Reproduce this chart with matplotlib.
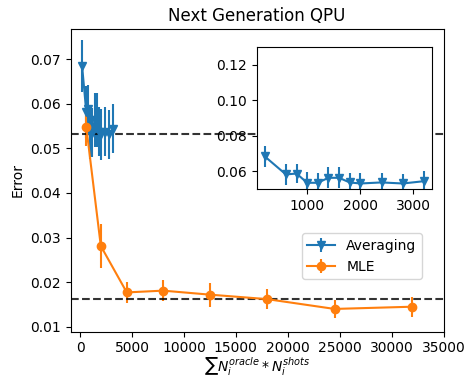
import numpy as np
import matplotlib
matplotlib.use('Agg')
import matplotlib.pyplot as plt

# Averaging estimator
avg_x = [200, 600, 800, 1000, 1200, 1400, 1600, 1800, 2000, 2400, 2800, 3200]
avg_err_mean = [0.0684, 0.0582, 0.0587, 0.0535, 0.0535, 0.0563, 0.0563, 0.0537, 0.0531, 0.0537, 0.0531, 0.0544]
avg_err_std = [0.0058, 0.0058, 0.0055, 0.0058, 0.0055, 0.0060, 0.0060, 0.0055, 0.0058, 0.0055, 0.0055, 0.0055]

# MLE estimator
mle_x = [600, 2000, 4500, 8000, 12500, 18000, 24500, 32000]
mle_err_mean = [0.0548, 0.0281, 0.0177, 0.0181, 0.0172, 0.0162, 0.0140, 0.0145]
mle_err_std = [0.0043, 0.0049, 0.0023, 0.0024, 0.0027, 0.0023, 0.0020, 0.0022]

# reference levels
nivel_avg = 0.0533
nivel_mle = 0.0162

fig = plt.figure(figsize=(4.65, 3.78), dpi=100)
ax = fig.add_axes([0.152, 0.1225, 0.802, 0.8005])

ax.errorbar(avg_x, avg_err_mean, yerr=avg_err_std, marker='v', label='Averaging')
ax.errorbar(mle_x, mle_err_mean, yerr=mle_err_std, marker='o', label='MLE')
ax.axhline(nivel_avg, color='k', linestyle='--', alpha=0.8)
ax.axhline(nivel_mle, color='k', linestyle='--', alpha=0.8)

ax.set_xlim(-900, 35000)
ax.set_ylim(0.0089, 0.0767)
ax.set_xticks(np.arange(0, 35001, 5000))
ax.set_title('Next Generation QPU')
ax.set_ylabel('Error')
ax.set_xlabel(r'$\sum N_i^{oracle} * N_i^{shots}$', labelpad=0)
ax.legend(loc='lower left', bbox_to_anchor=(0.601, 0.151))

# zoom en el estimador de promedio
ins = fig.add_axes([0.552, 0.5, 0.377, 0.376])
ins.errorbar(avg_x, avg_err_mean, yerr=avg_err_std, marker='v')
ins.set_ylim(0.05, 0.13)
ins.set_yticks([0.06, 0.08, 0.10, 0.12])
ins.set_xticks([1000, 2000, 3000])

fig.savefig('out.png', dpi=100)
